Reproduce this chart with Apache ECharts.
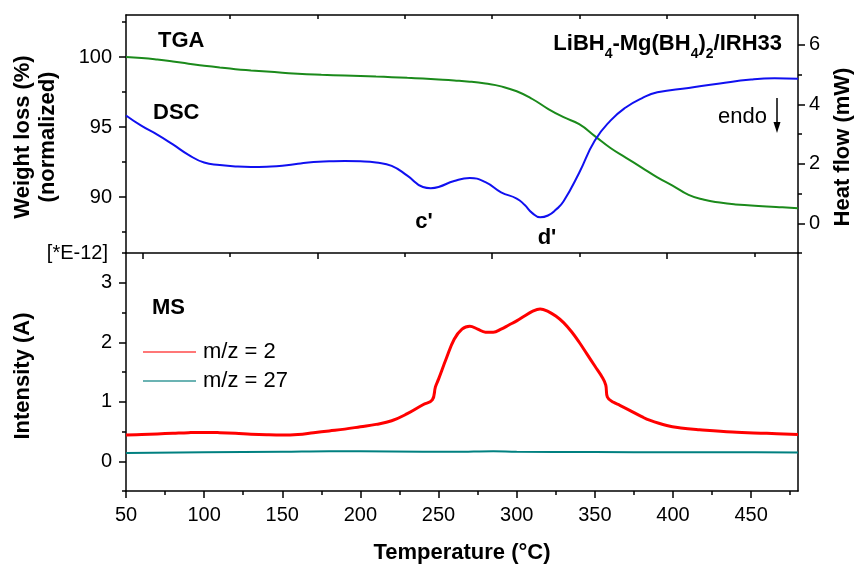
<!DOCTYPE html>
<html>
<head>
<meta charset="utf-8">
<title>TGA-DSC-MS</title>
<script src="https://cdn.jsdelivr.net/npm/echarts@6/dist/echarts.min.js"></script>
<style>
  html,body{margin:0;padding:0;background:#fff;}
  #main{width:855px;height:567px;}
</style>
</head>
<body>
<div id="main"></div>
<script>
// 温度刻度
var tempTicks = [50,100,150,200,250,300,350,400,450];
var tempMinorTicks = [75,125,175,225,275,325,375,425,475];
// top panel has its own tick axis (not aligned with temperature)
var topMajorTicks = [0,2,4,6];
var topMinorTicks = [1,3,5,7];
var topBorderTicks = [1,2,3,4,5,6,7];
var weightTicks = [90,95,100];
var weightMinorTicks = [87.5,92.5,97.5,102.5];
var heatTicks = [0,2,4,6];
var heatMinorTicks = [-1,1,3,5];
var intensityTicks = [0,1,2,3];
var intensityMinorTicks = [-0.5,0.5,1.5,2.5,3.5];

// TGA: [T (°C), weight %]
var tgaPoints = [[50,100.0],[60,99.93],[70,99.82],[80,99.68],[90,99.52],[100,99.38],[110,99.25],[120,99.13],
  [130,99.04],[140,98.96],[150,98.88],[160,98.80],[175,98.73],[190,98.68],[200,98.64],[210,98.60],[220,98.56],
  [230,98.51],[240,98.46],[250,98.40],[260,98.33],[270,98.24],[280,98.10],[290,97.90],[300,97.55],[310,97.0],
  [320,96.3],[330,95.7],[340,95.2],[350,94.35],[360,93.5],[370,92.8],[380,92.1],[390,91.4],[400,90.8],
  [410,90.15],[420,89.8],[430,89.6],[440,89.47],[450,89.4],[460,89.32],[470,89.26],[480,89.2]];

// DSC: [T (°C), heat flow mW]
var dscPoints = [[50,3.62],[60,3.27],[70,2.98],[80,2.65],[90,2.3],[100,2.04],[110,1.96],[120,1.91],
  [130,1.89],[140,1.90],[150,1.93],[160,2.0],[170,2.06],[180,2.08],[190,2.09],[200,2.08],[210,2.04],
  [220,1.93],[230,1.6],[240,1.22],[245,1.18],[250,1.22],[260,1.42],
  [270,1.52],[280,1.38],[290,1.04],[300,0.83],[305,0.62],[310,0.34],[315,0.2],
  [320,0.26],[325,0.45],[330,0.74],[340,1.7],[350,2.78],[360,3.45],
  [370,3.9],[380,4.2],[390,4.4],[410,4.55],[430,4.7],[450,4.83],[465,4.87],[480,4.86]];

// MS m/z = 2: [T (°C), intensity E-12 A]
var ms2Points = [[50,0.44],[60,0.45],[70,0.46],[80,0.47],[90,0.48],[100,0.485],[110,0.48],[120,0.47],[130,0.455],
  [140,0.445],[150,0.44],[160,0.45],[170,0.48],[180,0.51],[190,0.54],[200,0.58],[210,0.62],[220,0.68],[230,0.8],
  [240,0.95],[246,1.03],[248,1.25],[250,1.38],[255,1.73],[260,2.05],[265,2.22],[270,2.27],[275,2.22],[280,2.17],
  [285,2.17],[290,2.22],[295,2.29],[300,2.36],[305,2.44],[310,2.52],[315,2.56],[320,2.52],[325,2.44],[330,2.33],
  [335,2.18],[340,2.0],[345,1.8],[350,1.6],[355,1.4],[357,1.28],[358,1.08],[362,0.99],[366,0.94],[372,0.86],
  [380,0.75],[385,0.69],[396,0.6],[405,0.56],[417,0.53],[438,0.49],[460,0.47],[480,0.45]];

// MS m/z = 27
var ms27Points = [[50,0.14],[100,0.15],[150,0.16],[180,0.17],[220,0.165],[260,0.16],[285,0.17],[300,0.16],
  [350,0.155],[400,0.15],[440,0.15],[480,0.145]];

var FONT = '"Liberation Sans", Arial, sans-serif';
var black = '#000';

function tickAxis(base, values, len, inside){
  var ax = {
    type:'value',
    axisLine:{show:false, onZero:false},
    axisLabel:{show:false},
    splitLine:{show:false},
    axisTick:{show:true, customValues:values, length:len, inside:!!inside, lineStyle:{color:black, width:1.5}}
  };
  for (var k in base) ax[k] = base[k];
  return ax;
}

function mainAxis(base, ticks, labelMargin){
  var ax = {
    type:'value',
    axisLine:{show:true, onZero:false, lineStyle:{color:black, width:1.5}},
    axisTick:{show:true, customValues:ticks, length:7, lineStyle:{color:black, width:1.5}},
    axisLabel:{show:true, customValues:ticks, color:black, fontSize:20, fontFamily:FONT, margin:labelMargin},
    splitLine:{show:false}
  };
  for (var k in base) ax[k] = base[k];
  return ax;
}

function lineOnly(base){
  var ax = {
    type:'value',
    axisLine:{show:true, onZero:false, lineStyle:{color:black, width:1.5}},
    axisTick:{show:false}, axisLabel:{show:false}, splitLine:{show:false}
  };
  for (var k in base) ax[k] = base[k];
  return ax;
}

var chart = echarts.init(document.getElementById('main'));

var option = {
  animation:false,
  backgroundColor:'#fff',
  grid:[
    {left:126, top:15, width:672, height:238},
    {left:126, top:253, width:672, height:238}
  ],
  xAxis:[
    lineOnly({gridIndex:0, position:'bottom', min:50, max:480}),   // 0 top panel temperature
    lineOnly({gridIndex:0, position:'top', min:50, max:480}),      // 1 top border
    tickAxis({gridIndex:0, position:'bottom', min:-0.19, max:7.5}, topMajorTicks, 6),
    tickAxis({gridIndex:0, position:'bottom', min:-0.19, max:7.5}, topMinorTicks, 4),
    tickAxis({gridIndex:0, position:'top', min:-0.19, max:7.5}, topBorderTicks, 4, true),
    mainAxis({gridIndex:1, position:'bottom', min:50, max:480}, tempTicks, 14), // 5 bottom temperature
    tickAxis({gridIndex:1, position:'bottom', min:50, max:480}, tempMinorTicks, 4)
  ],
  yAxis:[
    mainAxis({gridIndex:0, position:'left', min:86, max:103}, weightTicks, 14),   // 0
    tickAxis({gridIndex:0, position:'left', min:86, max:103}, weightMinorTicks, 4),
    mainAxis({gridIndex:0, position:'right', min:-1, max:7}, heatTicks, 11),     // 2
    tickAxis({gridIndex:0, position:'right', min:-1, max:7}, heatMinorTicks, 4),
    mainAxis({gridIndex:1, position:'left', min:-0.5, max:3.5}, intensityTicks, 14), // 4
    tickAxis({gridIndex:1, position:'left', min:-0.5, max:3.5}, intensityMinorTicks, 4),
    lineOnly({gridIndex:1, position:'right', min:-0.5, max:3.5})
  ],
  legend:{
    data:['m/z = 2','m/z = 27'],
    orient:'vertical',
    left:138, top:336,
    icon:'rect',
    itemWidth:53, itemHeight:1.5, itemGap:7,
    textStyle:{fontSize:22, lineHeight:22, color:black, fontFamily:FONT, padding:[0,0,0,2]}
  },
  series:[
    {name:'TGA', type:'line', xAxisIndex:0, yAxisIndex:0, data:tgaPoints, symbol:'none',
     smooth:0.5, lineStyle:{color:'#1b8a1b', width:2}, itemStyle:{color:'#1b8a1b'}},
    {name:'DSC', type:'line', xAxisIndex:0, yAxisIndex:2, data:dscPoints, symbol:'none',
     smooth:0.5, lineStyle:{color:'#1010f0', width:2}, itemStyle:{color:'#1010f0'}},
    {name:'m/z = 2', type:'line', xAxisIndex:5, yAxisIndex:4, data:ms2Points, symbol:'none',
     smooth:0.4, lineStyle:{color:'#ff0000', width:3}, itemStyle:{color:'#ff4a4a'}},
    {name:'m/z = 27', type:'line', xAxisIndex:5, yAxisIndex:4, data:ms27Points, symbol:'none',
     smooth:0.4, lineStyle:{color:'#008080', width:2}, itemStyle:{color:'#3a9a9a'}}
  ],
  graphic:[
    {type:'text', x:23, y:137, rotation:Math.PI/2,
     style:{text:'Weight loss (%)', font:'bold 22px ' + FONT, fill:black, align:'center', verticalAlign:'middle'}},
    {type:'text', x:48, y:137, rotation:Math.PI/2,
     style:{text:'(normalized)', font:'bold 22px ' + FONT, fill:black, align:'center', verticalAlign:'middle'}},
    {type:'text', x:23, y:376, rotation:Math.PI/2,
     style:{text:'Intensity (A)', font:'bold 22px ' + FONT, fill:black, align:'center', verticalAlign:'middle'}},
    {type:'text', x:843, y:147, rotation:Math.PI/2,
     style:{text:'Heat flow (mW)', font:'bold 22px ' + FONT, fill:black, align:'center', verticalAlign:'middle'}},
    {type:'text', x:462, y:553,
     style:{text:'Temperature (°C)', font:'bold 22px ' + FONT, fill:black, align:'center', verticalAlign:'middle'}},
    {type:'text', x:108, y:253,
     style:{text:'[*E-12]', font:'20px ' + FONT, fill:black, align:'right', verticalAlign:'middle'}},
    {type:'text', x:158, y:41,
     style:{text:'TGA', font:'bold 22px ' + FONT, fill:black, align:'left', verticalAlign:'middle'}},
    {type:'text', x:153, y:113,
     style:{text:'DSC', font:'bold 22px ' + FONT, fill:black, align:'left', verticalAlign:'middle'}},
    {type:'text', x:152, y:308,
     style:{text:'MS', font:'bold 22px ' + FONT, fill:black, align:'left', verticalAlign:'middle'}},
    {type:'text', x:424, y:222,
     style:{text:"c'", font:'bold 22px ' + FONT, fill:black, align:'center', verticalAlign:'middle'}},
    {type:'text', x:547, y:238,
     style:{text:"d'", font:'bold 22px ' + FONT, fill:black, align:'center', verticalAlign:'middle'}},
    {type:'text', x:718, y:117,
     style:{text:'endo', font:'22px ' + FONT, fill:black, align:'left', verticalAlign:'middle'}},
    {type:'line', shape:{x1:777, y1:98, x2:777, y2:124}, style:{stroke:black, lineWidth:1.5}},
    {type:'polygon', shape:{points:[[773.5,122],[780.5,122],[777,133]]}, style:{fill:black}},
    {type:'text', x:782, y:43,
     style:{
       text:'{b|LiBH}{s|4}{b|-Mg(BH}{s|4}{b|)}{s|2}{b|/IRH33}',
       align:'right', verticalAlign:'middle',
       rich:{
         b:{font:'bold 22px ' + FONT, fill:black, verticalAlign:'bottom', lineHeight:24},
         s:{font:'bold 14px ' + FONT, fill:black, verticalAlign:'bottom', lineHeight:24, padding:[0,0,-6,0]}
       }
     }}
  ]
};

chart.setOption(option);
</script>
</body>
</html>
